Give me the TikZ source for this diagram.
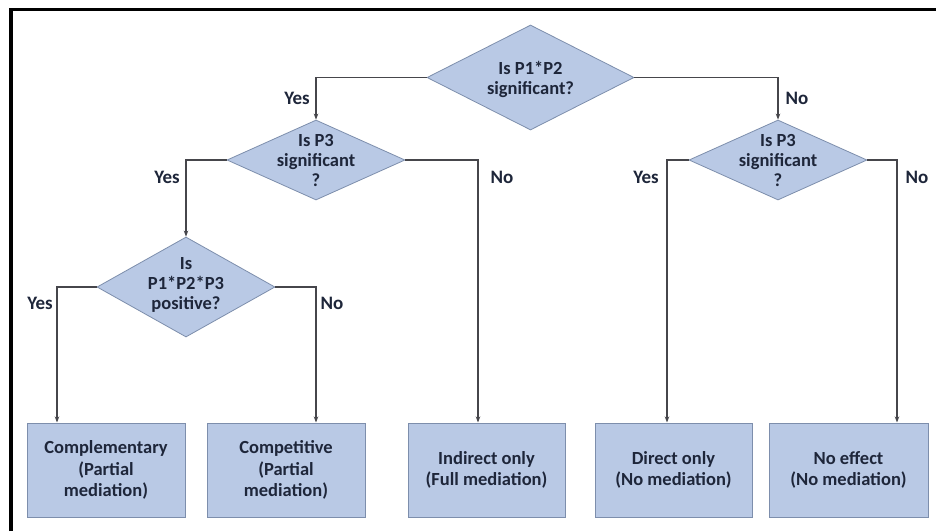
\documentclass[tikz,border=0pt]{standalone}
\usepackage{fontspec}
\setmainfont{Carlito}
\usetikzlibrary{shapes.geometric,arrows.meta}
\definecolor{boxfill}{RGB}{185,201,229}
\definecolor{boxline}{RGB}{125,142,172}
\definecolor{conncol}{RGB}{70,70,75}
\definecolor{txtcol}{RGB}{30,38,58}
\begin{document}
\begin{tikzpicture}[x=1pt,y=-1pt,
 dia/.style={diamond, draw=boxline, fill=boxfill, line width=0.8pt, inner sep=0pt},
 dtext/.style={align=center, font=\fontsize{18.5}{20}\selectfont\bfseries, text=txtcol, inner sep=0pt},
 res/.style={rectangle, draw=boxline, fill=boxfill, line width=1pt, minimum width=158pt, minimum height=94pt, align=center, font=\fontsize{18.5}{21.5}\selectfont\bfseries, text=txtcol, inner sep=0pt},
 conn/.style={draw=conncol, line width=1.5pt, -{Stealth[length=6pt,width=4.5pt]}},
 lab/.style={font=\fontsize{19}{21}\selectfont\bfseries, text=txtcol, inner sep=0pt}]
\useasboundingbox (0,0) rectangle (936,531);
\fill[white] (0,0) rectangle (936,531);
\draw[line width=3.5pt] (11,531) -- (11,9.5) -- (936,9.5);

\node[dia, minimum width=207pt, minimum height=105pt] (d1) at (530.5,77.5) {};
\node[dtext] (t1) at (530.5,79) {Is P1*P2\\significant?};
\node[dia, minimum width=178pt, minimum height=80pt] (d2) at (316,160) {};
\node[dtext] (t2) at (d2) {Is P3\\significant\\?};
\node[dia, minimum width=178pt, minimum height=80pt] (d4) at (778,160) {};
\node[dtext] (t4) at (d4) {Is P3\\significant\\?};
\node[dia, minimum width=178pt, minimum height=100pt] (d3) at (186,287) {};
\node[dtext] (t3) at (186,285) {Is\\P1*P2*P3\\positive?};

\node[res] (b1) at (106,470) {Complementary\\(Partial\\mediation)};
\node[res] (b2) at (286,470) {Competitive\\(Partial\\mediation)};
\node[res, minimum width=157pt] (b3) at (486.5,470) {Indirect only\\(Full mediation)};
\node[res, minimum width=157pt] (b4) at (673.5,470) {Direct only\\(No mediation)};
\node[res, minimum width=159pt] (b5) at (848.5,470) {No effect\\(No mediation)};

\draw[conn] (d1.west) -| (d2.north);
\draw[conn] (d1.east) -| (d4.north);
\draw[conn] (d2.west) -| (d3.north);
\draw[conn] (d2.east) -| ([xshift=-8.5pt]b3.north);
\draw[conn] (d3.west) -| ([xshift=-49pt]b1.north);
\draw[conn] (d3.east) -| ([xshift=30pt]b2.north);
\draw[conn] (d4.west) -| ([xshift=-6.5pt]b4.north);
\draw[conn] (d4.east) -| ([xshift=48.5pt]b5.north);

\node[lab] (l1) at (297,98) {Yes};
\node[lab] (l2) at (797,98) {No};
\node[lab] (l3) at (167,177) {Yes};
\node[lab] (l4) at (502,177) {No};
\node[lab] (l5) at (646,177) {Yes};
\node[lab] (l6) at (917,177) {No};
\node[lab] (l7) at (40,303) {Yes};
\node[lab] (l8) at (332,303) {No};
\end{tikzpicture}
\end{document}
